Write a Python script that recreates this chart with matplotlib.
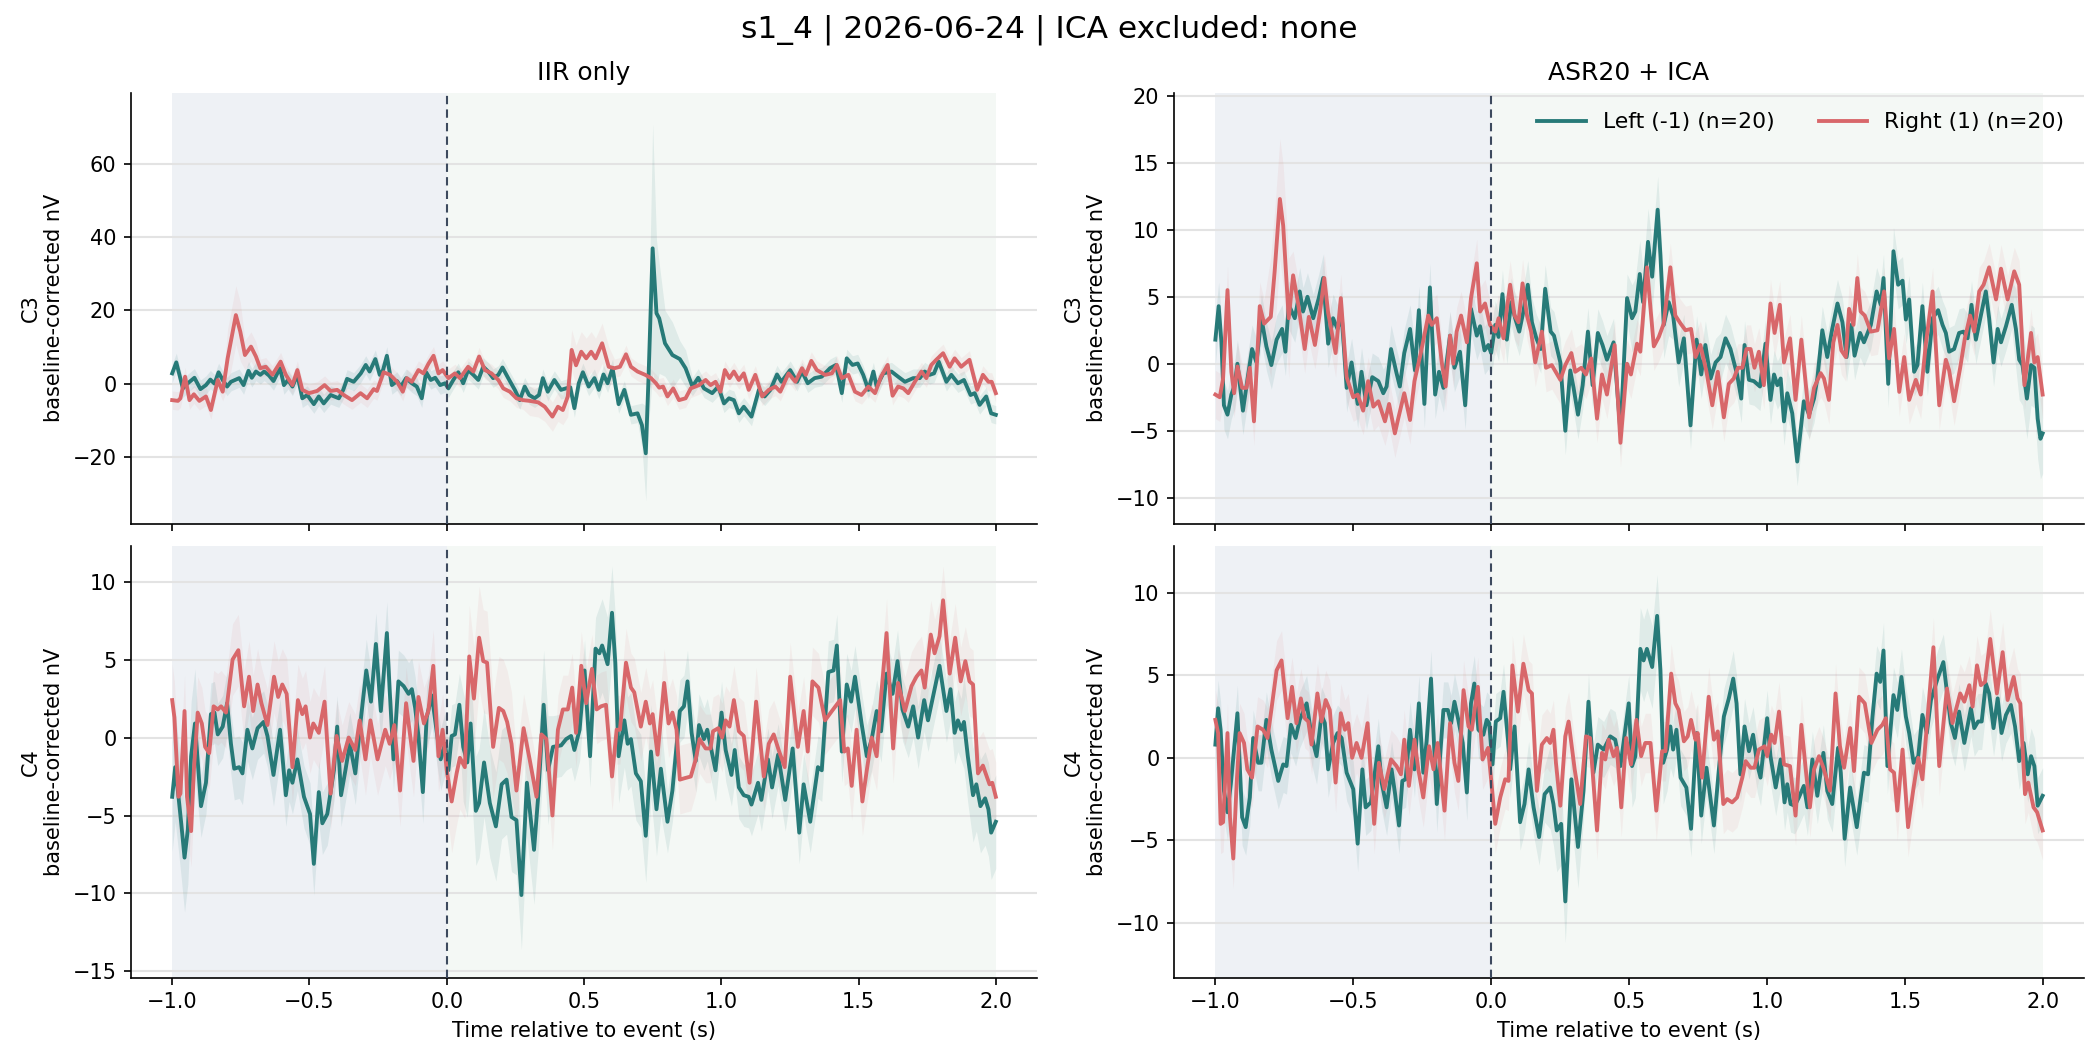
import numpy as np
import matplotlib
matplotlib.use("Agg")
import matplotlib.pyplot as plt

# ---------------- data (time s, value nV) ----------------
c3_iir_left = [(-1.000, 2.8), (-0.985, 5.8), (-0.961, -1.3), (-0.943, 0.1), (-0.919, 1.6), (-0.897, -1.5), (-0.877, -0.4), (-0.861, 1.1), (-0.846, 0.0), (-0.831, 3.1), (-0.816, 1.0), (-0.800, -0.8), (-0.786, 0.5), (-0.756, 1.5), (-0.740, -0.4), (-0.722, 3.5), (-0.710, 1.6), (-0.695, 3.3), (-0.679, 2.4), (-0.665, 3.3), (-0.647, 2.2), (-0.631, 0.7), (-0.617, 2.8), (-0.607, 4.2), (-0.593, -0.4), (-0.578, 1.0), (-0.562, -0.8), (-0.544, 2.4), (-0.526, -4.0), (-0.508, -3.1), (-0.484, -5.6), (-0.466, -3.5), (-0.448, -5.4), (-0.423, -3.1), (-0.393, -4.0), (-0.377, -1.7), (-0.363, 1.3), (-0.339, 0.5), (-0.313, 2.8), (-0.295, 5.1), (-0.281, 3.3), (-0.260, 6.7), (-0.244, 2.4), (-0.232, 3.7), (-0.218, 7.6), (-0.200, -0.4), (-0.181, 0.7), (-0.167, -0.8), (-0.148, 1.5), (-0.127, 0.1), (-0.109, -0.8), (-0.091, -4.0), (-0.075, 3.1), (-0.058, 1.0), (-0.042, 1.6), (-0.024, -0.4), (-0.006, 0.1), (0.006, -1.3), (0.024, 1.0), (0.042, 3.1), (0.060, 0.1), (0.078, 3.7), (0.097, 2.4), (0.115, 1.0), (0.133, 4.6), (0.151, 3.3), (0.169, 1.5), (0.188, 2.4), (0.203, 4.4), (0.224, 1.5), (0.248, -1.7), (0.266, -4.5), (0.284, -0.8), (0.300, -3.1), (0.320, -4.0), (0.336, -3.1), (0.350, 1.5), (0.368, -2.2), (0.392, 1.0), (0.416, -1.7), (0.434, -1.3), (0.450, -1.0), (0.465, -6.7), (0.481, 0.1), (0.496, 3.1), (0.517, -0.8), (0.538, 1.5), (0.554, -1.7), (0.571, 2.5), (0.586, 0.1), (0.604, 4.2), (0.626, -5.6), (0.647, -1.7), (0.671, -8.5), (0.695, -8.1), (0.711, -11.3), (0.725, -19.0), (0.735, 1.5), (0.750, 36.9), (0.764, 19.2), (0.774, 17.8), (0.795, 11.0), (0.822, 7.8), (0.849, 6.7), (0.870, 4.2), (0.895, -0.8), (0.916, 1.6), (0.937, -1.3), (0.967, -2.6), (0.989, -0.8), (1.010, -5.4), (1.028, -4.0), (1.046, -4.5), (1.064, -8.1), (1.082, -6.3), (1.110, -9.0), (1.137, -1.7), (1.158, -3.5), (1.179, -1.7), (1.203, 2.5), (1.219, 0.5), (1.251, 3.7), (1.276, 0.5), (1.294, 3.3), (1.315, 0.1), (1.340, 1.5), (1.366, 1.9), (1.396, 4.2), (1.418, 5.1), (1.439, -2.6), (1.457, 6.9), (1.478, 5.1), (1.497, 5.5), (1.517, 2.4), (1.536, -1.7), (1.554, 3.3), (1.566, -0.8), (1.590, 2.8), (1.620, 3.3), (1.644, 1.9), (1.669, 0.5), (1.699, 1.5), (1.723, 1.5), (1.741, 3.3), (1.759, 2.4), (1.775, 2.8), (1.792, 6.0), (1.820, 0.5), (1.838, 2.4), (1.862, 0.1), (1.884, 1.0), (1.908, -3.1), (1.923, -2.6), (1.941, -5.8), (1.965, -3.5), (1.983, -8.1), (2.000, -8.5)]

c3_iir_right = [(-1.000, -4.5), (-0.979, -4.7), (-0.970, -4.0), (-0.953, 1.9), (-0.937, -4.5), (-0.921, -2.9), (-0.901, -4.7), (-0.877, -3.5), (-0.859, -7.2), (-0.834, 1.0), (-0.816, -2.2), (-0.798, 6.9), (-0.768, 18.7), (-0.752, 14.2), (-0.735, 7.8), (-0.713, 10.1), (-0.695, 7.4), (-0.679, 4.2), (-0.659, 4.6), (-0.635, 2.4), (-0.605, 6.0), (-0.586, 2.4), (-0.562, -0.4), (-0.544, 3.7), (-0.526, -1.7), (-0.502, -2.6), (-0.472, -2.0), (-0.445, -0.4), (-0.423, -2.0), (-0.399, -1.7), (-0.375, -3.1), (-0.345, -4.5), (-0.314, -2.6), (-0.290, -4.0), (-0.266, -1.5), (-0.254, -2.0), (-0.230, 3.1), (-0.206, 2.4), (-0.181, 0.5), (-0.160, -2.2), (-0.145, 1.5), (-0.127, 0.5), (-0.103, 3.7), (-0.085, 2.8), (-0.066, 5.5), (-0.048, 7.6), (-0.030, 2.8), (-0.015, 3.7), (0.006, 1.5), (0.030, 2.8), (0.048, 1.5), (0.078, 4.6), (0.097, 3.3), (0.118, 7.4), (0.139, 3.7), (0.163, 2.8), (0.188, 1.0), (0.206, -1.3), (0.230, -2.2), (0.254, -4.0), (0.278, -4.5), (0.302, -4.7), (0.333, -5.1), (0.357, -6.3), (0.385, -9.0), (0.405, -6.3), (0.423, -7.2), (0.441, -3.5), (0.455, 9.2), (0.471, 5.0), (0.490, 8.7), (0.508, 6.9), (0.526, 8.7), (0.542, 6.9), (0.566, 11.0), (0.590, 4.6), (0.611, 4.2), (0.631, 4.6), (0.653, 8.0), (0.671, 4.6), (0.695, 3.3), (0.723, 2.4), (0.744, 1.5), (0.762, 0.1), (0.774, -1.1), (0.788, -0.8), (0.804, -3.5), (0.825, -1.3), (0.846, -4.5), (0.870, -4.0), (0.889, -1.3), (0.919, -0.4), (0.943, 1.0), (0.961, -0.4), (0.979, 0.5), (0.997, -2.2), (1.013, 3.7), (1.030, 1.5), (1.046, 3.3), (1.064, 1.0), (1.082, 2.8), (1.100, -1.7), (1.124, 2.4), (1.149, -3.5), (1.173, -1.7), (1.197, -0.8), (1.215, -2.2), (1.245, 2.8), (1.270, 0.5), (1.294, 4.2), (1.308, 2.4), (1.328, 6.2), (1.348, 3.7), (1.378, 2.4), (1.403, 2.8), (1.421, 5.1), (1.439, 1.5), (1.463, 2.4), (1.487, -2.2), (1.511, -3.1), (1.536, -0.8), (1.560, -2.6), (1.582, 1.9), (1.606, 5.1), (1.624, -3.3), (1.644, -0.8), (1.663, -1.3), (1.681, -2.6), (1.705, 0.5), (1.729, 3.3), (1.747, 1.5), (1.765, 5.1), (1.783, 6.5), (1.808, 8.3), (1.832, 4.6), (1.850, 6.9), (1.874, 4.6), (1.904, 6.5), (1.932, -1.7), (1.953, 2.4), (1.973, 0.5), (1.985, 0.5), (2.000, -2.6)]

c4_iir_left = [(-1.000, -3.8), (-0.989, -1.9), (-0.977, -3.8), (-0.967, -5.5), (-0.955, -7.7), (-0.943, -5.9), (-0.931, -1.2), (-0.917, 0.9), (-0.895, -4.4), (-0.877, -2.9), (-0.859, 1.5), (-0.846, 1.6), (-0.834, 0.2), (-0.816, 0.7), (-0.800, 2.2), (-0.786, -0.4), (-0.774, -2.0), (-0.756, -1.9), (-0.744, -2.3), (-0.726, 0.5), (-0.708, -0.7), (-0.689, 0.6), (-0.667, 1.0), (-0.653, 0.1), (-0.631, -2.4), (-0.607, 0.5), (-0.586, -3.7), (-0.574, -2.1), (-0.562, -2.9), (-0.544, -1.4), (-0.520, -3.8), (-0.498, -4.9), (-0.484, -8.1), (-0.466, -3.5), (-0.453, -5.5), (-0.435, -4.9), (-0.411, -2.1), (-0.399, 0.7), (-0.385, -3.7), (-0.369, -2.1), (-0.353, -0.4), (-0.333, -2.3), (-0.312, 1.3), (-0.293, 4.3), (-0.276, 2.3), (-0.258, 6.0), (-0.240, 1.7), (-0.218, 6.7), (-0.208, 3.1), (-0.194, -1.4), (-0.176, 3.6), (-0.157, 3.3), (-0.139, 2.8), (-0.127, 3.1), (-0.115, 1.9), (-0.103, 0.1), (-0.087, -3.5), (-0.073, 1.3), (-0.054, 2.7), (-0.036, 0.3), (-0.022, -1.4), (-0.006, -0.4), (0.006, -2.1), (0.018, 0.1), (0.030, 0.2), (0.046, 2.1), (0.060, -0.6), (0.075, -1.6), (0.087, 0.9), (0.106, -4.7), (0.118, -4.2), (0.136, -1.6), (0.157, -4.2), (0.179, -5.7), (0.200, -3.0), (0.218, -2.7), (0.236, -5.1), (0.254, -5.3), (0.272, -10.1), (0.292, -2.9), (0.318, -7.2), (0.333, -3.8), (0.353, 2.1), (0.369, -2.1), (0.387, -0.6), (0.417, -0.5), (0.435, -0.1), (0.453, 0.1), (0.465, -0.8), (0.484, 0.5), (0.502, 4.3), (0.522, -1.2), (0.542, 5.7), (0.556, 5.4), (0.566, 5.9), (0.586, 4.7), (0.602, 8.0), (0.614, 4.8), (0.626, -1.2), (0.647, 1.1), (0.659, -0.4), (0.671, -0.1), (0.689, -2.3), (0.707, -2.8), (0.725, -6.3), (0.744, -0.9), (0.764, -4.6), (0.780, -2.0), (0.804, -5.4), (0.822, -3.4), (0.834, -1.1), (0.849, 1.7), (0.864, 2.0), (0.877, 3.6), (0.892, 0.3), (0.907, -1.5), (0.919, 0.8), (0.937, -0.1), (0.949, 0.5), (0.979, -2.1), (1.001, 1.6), (1.016, -0.8), (1.037, -2.4), (1.049, -0.8), (1.064, -3.2), (1.082, -3.7), (1.100, -3.8), (1.110, -4.3), (1.134, -2.9), (1.146, -4.0), (1.170, -1.4), (1.185, -3.2), (1.207, -1.1), (1.233, -4.0), (1.260, -0.7), (1.284, -6.1), (1.300, -3.0), (1.324, -5.4), (1.352, -1.9), (1.366, -2.1), (1.390, 4.2), (1.409, 4.3), (1.421, 5.9), (1.439, -0.9), (1.457, 3.4), (1.473, 2.3), (1.487, 3.9), (1.511, 0.9), (1.530, -1.2), (1.548, -0.1), (1.566, 1.7), (1.582, 0.4), (1.602, 4.1), (1.624, 2.8), (1.642, 4.9), (1.660, 1.8), (1.681, 0.7), (1.699, 2.0), (1.717, 0.0), (1.739, 2.4), (1.753, 1.1), (1.771, 2.6), (1.795, 4.6), (1.820, 1.7), (1.835, 3.1), (1.850, 0.3), (1.862, 1.1), (1.874, 0.5), (1.884, 1.0), (1.898, -1.2), (1.917, -3.7), (1.929, -3.0), (1.944, -4.4), (1.961, -3.9), (1.973, -4.6), (1.983, -6.1), (2.000, -5.4)]

c4_iir_right = [(-1.000, 2.4), (-0.992, 1.3), (-0.977, -3.8), (-0.970, -3.6), (-0.955, 1.7), (-0.946, -3.8), (-0.931, -6.0), (-0.921, -2.1), (-0.907, 1.6), (-0.892, 0.9), (-0.880, -0.6), (-0.865, -1.0), (-0.849, 2.0), (-0.834, 1.8), (-0.822, 2.0), (-0.804, 1.6), (-0.780, 5.0), (-0.759, 5.6), (-0.738, 2.0), (-0.720, 3.9), (-0.705, 1.7), (-0.689, 3.4), (-0.675, 2.2), (-0.653, 0.8), (-0.629, 3.9), (-0.614, 2.6), (-0.599, 3.4), (-0.583, 2.8), (-0.562, -1.9), (-0.542, 2.4), (-0.526, 1.5), (-0.514, 2.0), (-0.498, 0.0), (-0.486, 0.9), (-0.466, 0.3), (-0.445, 2.3), (-0.423, -3.6), (-0.401, 0.1), (-0.381, -1.5), (-0.357, 0.0), (-0.333, -0.8), (-0.317, 1.1), (-0.296, -1.4), (-0.278, 1.1), (-0.252, -1.4), (-0.224, 0.5), (-0.208, -0.4), (-0.191, 0.8), (-0.170, -3.4), (-0.148, 2.2), (-0.133, 0.1), (-0.121, -1.5), (-0.103, 2.6), (-0.083, 0.9), (-0.067, 1.7), (-0.049, 4.6), (-0.030, -1.2), (-0.015, 0.5), (0.000, -2.1), (0.018, -4.1), (0.036, -2.3), (0.048, -1.3), (0.066, -1.9), (0.082, 5.2), (0.099, 2.5), (0.118, 6.4), (0.133, 4.9), (0.147, 4.8), (0.169, -0.6), (0.190, 1.9), (0.206, 1.7), (0.220, 1.0), (0.236, -0.4), (0.254, -3.4), (0.280, 0.6), (0.302, -1.4), (0.327, -3.8), (0.345, 0.2), (0.363, -0.1), (0.385, -5.0), (0.405, 0.5), (0.423, 1.8), (0.441, 1.8), (0.457, 3.2), (0.471, 0.3), (0.490, 4.6), (0.508, 2.2), (0.529, 4.4), (0.546, 1.8), (0.562, 2.0), (0.580, 2.1), (0.602, -2.5), (0.619, 0.5), (0.631, 0.5), (0.653, 4.8), (0.671, 3.2), (0.683, 2.9), (0.707, 0.7), (0.725, 2.3), (0.740, 0.9), (0.750, 1.5), (0.768, -1.1), (0.792, 3.5), (0.808, 0.9), (0.822, 1.6), (0.837, 0.5), (0.849, -2.7), (0.868, -2.6), (0.889, -2.5), (0.907, -1.4), (0.921, -0.1), (0.943, -0.7), (0.961, -0.7), (0.970, 0.4), (0.989, 0.6), (1.003, 0.0), (1.016, 1.1), (1.030, 0.7), (1.046, 2.4), (1.064, 0.4), (1.082, 0.1), (1.103, -2.9), (1.127, 2.3), (1.155, -2.5), (1.173, -0.4), (1.191, 0.2), (1.209, -0.8), (1.231, -1.9), (1.251, 3.9), (1.279, -0.6), (1.300, 1.7), (1.315, -0.9), (1.332, 3.6), (1.354, 3.2), (1.378, 1.1), (1.403, 1.7), (1.433, 2.4), (1.448, -0.9), (1.461, -0.7), (1.475, -3.1), (1.493, 0.5), (1.514, -4.1), (1.530, -2.1), (1.548, 0.0), (1.566, -1.2), (1.582, 2.6), (1.602, 6.7), (1.626, -0.7), (1.644, 3.5), (1.669, 1.7), (1.693, 3.3), (1.711, 3.9), (1.729, 4.3), (1.741, 3.2), (1.763, 6.6), (1.777, 5.4), (1.795, 6.5), (1.808, 8.8), (1.832, 4.1), (1.852, 6.4), (1.872, 3.6), (1.889, 4.9), (1.904, 3.6), (1.917, 3.4), (1.935, -2.3), (1.953, -1.8), (1.977, -3.0), (1.987, -2.9), (2.000, -3.8)]

c3_asr_left = [(-1.000, 1.8), (-0.988, 4.3), (-0.978, 1.6), (-0.969, -3.1), (-0.956, -3.8), (-0.942, -2.3), (-0.930, -1.6), (-0.920, 0.0), (-0.900, -3.5), (-0.881, -0.8), (-0.867, 1.1), (-0.851, 0.1), (-0.833, 3.4), (-0.815, 1.3), (-0.797, -0.1), (-0.778, 1.8), (-0.758, 2.6), (-0.746, 0.9), (-0.734, 4.4), (-0.712, 3.4), (-0.694, 5.4), (-0.682, 3.9), (-0.666, 5.0), (-0.645, 3.4), (-0.625, 4.9), (-0.609, 6.4), (-0.591, 1.5), (-0.573, 3.4), (-0.557, 2.6), (-0.542, 3.6), (-0.524, -1.8), (-0.506, 0.1), (-0.484, -3.0), (-0.470, -0.6), (-0.452, -3.1), (-0.431, -1.0), (-0.409, -1.3), (-0.391, -2.2), (-0.379, -1.7), (-0.363, 1.1), (-0.343, -0.7), (-0.331, -1.7), (-0.315, 0.8), (-0.294, 2.6), (-0.276, -0.5), (-0.262, 4.0), (-0.242, -3.0), (-0.222, 5.7), (-0.203, -2.3), (-0.189, -0.6), (-0.173, -1.8), (-0.149, 2.1), (-0.133, -0.3), (-0.113, 0.9), (-0.094, -3.1), (-0.073, 4.1), (-0.052, 2.1), (-0.040, 2.8), (-0.024, 1.0), (-0.010, 1.4), (0.000, 0.8), (0.015, 2.9), (0.027, 2.0), (0.041, 5.2), (0.057, 1.8), (0.073, 4.6), (0.087, 3.4), (0.102, 2.4), (0.117, 3.9), (0.133, 5.9), (0.148, 3.1), (0.164, 1.9), (0.180, 1.1), (0.196, 5.6), (0.216, 2.4), (0.228, 2.1), (0.251, 0.1), (0.269, -5.0), (0.287, -0.5), (0.299, -1.8), (0.315, -3.8), (0.332, -1.6), (0.351, 2.4), (0.368, -1.6), (0.387, 2.3), (0.404, 1.4), (0.420, 0.3), (0.444, 1.6), (0.469, -5.1), (0.493, 4.9), (0.511, 3.4), (0.523, 3.9), (0.539, 6.7), (0.551, 4.6), (0.569, 9.1), (0.584, 6.5), (0.604, 11.5), (0.614, 8.1), (0.626, 2.9), (0.644, 4.6), (0.660, 3.6), (0.680, 0.1), (0.699, 1.9), (0.723, -4.6), (0.745, 1.8), (0.762, -0.8), (0.777, 1.4), (0.796, -1.1), (0.814, 0.1), (0.832, 0.5), (0.850, 1.9), (0.868, 1.1), (0.892, -0.8), (0.907, -2.6), (0.919, 1.4), (0.935, -1.2), (0.953, -1.3), (0.975, -1.7), (0.995, 1.5), (1.013, -2.7), (1.026, -0.8), (1.038, -1.6), (1.050, -1.1), (1.062, -4.3), (1.074, -2.2), (1.092, -3.7), (1.110, -7.3), (1.134, -2.8), (1.153, -3.8), (1.171, -2.6), (1.183, -1.1), (1.201, 2.5), (1.219, 0.5), (1.237, 2.6), (1.256, 4.5), (1.274, 3.1), (1.289, 0.5), (1.306, 2.9), (1.318, 0.6), (1.338, 2.3), (1.352, 1.6), (1.377, 2.9), (1.398, 5.4), (1.413, 4.4), (1.423, 6.4), (1.440, -1.5), (1.459, 8.4), (1.476, 5.9), (1.492, 6.2), (1.504, 3.3), (1.516, 4.8), (1.534, -0.6), (1.546, -0.1), (1.564, 4.3), (1.582, -0.6), (1.601, 3.4), (1.621, 4.0), (1.637, 2.9), (1.649, 2.3), (1.661, 0.9), (1.679, 1.1), (1.697, 2.3), (1.713, 2.4), (1.728, 1.9), (1.742, 4.4), (1.758, 1.8), (1.776, 3.6), (1.794, 5.4), (1.806, 3.4), (1.822, 0.1), (1.837, 2.6), (1.849, 1.6), (1.867, 2.8), (1.888, 4.4), (1.903, 2.6), (1.915, 0.3), (1.927, -0.1), (1.943, -2.6), (1.958, -0.1), (1.970, -0.3), (1.982, -4.1), (1.992, -5.6), (2.000, -5.2)]

c3_asr_right = [(-1.000, -2.3), (-0.984, -2.5), (-0.972, -1.1), (-0.956, 5.5), (-0.942, -0.6), (-0.932, -2.2), (-0.920, -0.2), (-0.903, -1.8), (-0.887, -1.8), (-0.875, -0.3), (-0.860, -4.3), (-0.839, 4.3), (-0.823, 3.0), (-0.799, 3.5), (-0.785, 6.9), (-0.766, 12.3), (-0.754, 10.3), (-0.734, 3.4), (-0.718, 6.6), (-0.700, 4.5), (-0.676, 1.1), (-0.661, 3.5), (-0.639, 1.4), (-0.621, 3.8), (-0.605, 6.4), (-0.591, 3.8), (-0.564, 0.8), (-0.545, 4.9), (-0.524, -1.0), (-0.500, -2.5), (-0.484, -2.3), (-0.464, -3.5), (-0.446, -1.3), (-0.427, -3.2), (-0.409, -2.8), (-0.385, -4.3), (-0.370, -3.0), (-0.349, -5.2), (-0.337, -4.1), (-0.315, -2.2), (-0.294, -4.2), (-0.278, -1.3), (-0.254, 0.9), (-0.228, 3.6), (-0.215, 2.9), (-0.197, 3.4), (-0.179, 0.1), (-0.165, -1.7), (-0.149, 2.1), (-0.137, 0.0), (-0.125, 2.4), (-0.109, 3.6), (-0.088, 1.6), (-0.073, 4.9), (-0.052, 7.5), (-0.040, 3.9), (-0.022, 4.5), (-0.004, 2.9), (0.015, 2.4), (0.027, 3.4), (0.045, 1.9), (0.057, 4.1), (0.069, 5.9), (0.085, 3.6), (0.099, 3.1), (0.114, 6.0), (0.130, 3.6), (0.145, 2.4), (0.160, 0.1), (0.184, 2.4), (0.199, -0.3), (0.220, -0.1), (0.251, -1.2), (0.269, -0.1), (0.291, 0.8), (0.305, -0.6), (0.327, -0.3), (0.344, -0.8), (0.363, 0.4), (0.384, -4.1), (0.402, -0.8), (0.420, -2.3), (0.448, 1.4), (0.469, -5.9), (0.493, 0.0), (0.507, -0.8), (0.529, 1.5), (0.541, 0.9), (0.565, 7.2), (0.590, 1.3), (0.608, 2.0), (0.626, 3.0), (0.650, 7.2), (0.668, 3.6), (0.687, 3.0), (0.705, 2.5), (0.725, 2.6), (0.741, 0.5), (0.759, 1.4), (0.781, -0.6), (0.802, -3.1), (0.822, -0.6), (0.844, -4.0), (0.862, -1.5), (0.880, -1.1), (0.895, -0.3), (0.911, -0.3), (0.926, 1.1), (0.941, 1.1), (0.955, -0.3), (0.971, 0.9), (0.989, -1.6), (1.013, 4.5), (1.028, 2.3), (1.047, 4.4), (1.062, 0.1), (1.084, 1.9), (1.104, -2.7), (1.125, 1.8), (1.153, -4.0), (1.171, -1.8), (1.195, -0.7), (1.207, -1.1), (1.225, -2.7), (1.241, 1.6), (1.256, 2.9), (1.270, 1.0), (1.286, 0.5), (1.298, 4.1), (1.314, 2.9), (1.328, 6.4), (1.340, 3.9), (1.355, 3.6), (1.377, 2.4), (1.401, 2.5), (1.425, 5.4), (1.443, 0.4), (1.461, 2.6), (1.480, -2.1), (1.498, 0.5), (1.516, -2.7), (1.540, -1.2), (1.558, -2.3), (1.576, 1.4), (1.601, 5.4), (1.625, -3.1), (1.649, 0.3), (1.661, -0.5), (1.679, -2.8), (1.701, -0.3), (1.718, 1.9), (1.737, 3.6), (1.752, 2.4), (1.770, 5.4), (1.786, 5.9), (1.806, 7.2), (1.831, 4.8), (1.849, 7.1), (1.873, 4.8), (1.897, 6.9), (1.915, 5.9), (1.934, -1.6), (1.958, 2.3), (1.970, 0.1), (1.982, 0.5), (2.000, -2.3)]

c4_asr_left = [(-1.000, 0.8), (-0.990, 3.0), (-0.981, 1.7), (-0.969, -2.0), (-0.956, -3.3), (-0.944, -1.6), (-0.930, 0.9), (-0.920, 2.7), (-0.903, -3.6), (-0.890, -4.2), (-0.875, -2.4), (-0.863, 1.2), (-0.845, -0.3), (-0.833, -0.3), (-0.815, 2.3), (-0.797, 0.5), (-0.772, -1.4), (-0.754, -0.4), (-0.742, -0.5), (-0.726, 2.0), (-0.709, 1.2), (-0.694, 2.3), (-0.669, 3.3), (-0.651, 1.3), (-0.633, 0.1), (-0.615, 2.6), (-0.603, 2.1), (-0.591, -0.7), (-0.573, 0.9), (-0.557, 1.5), (-0.542, 1.2), (-0.524, -0.9), (-0.500, -1.9), (-0.484, -5.2), (-0.467, -0.7), (-0.455, -3.0), (-0.436, -2.7), (-0.409, 0.7), (-0.397, -1.5), (-0.379, -3.0), (-0.361, -0.7), (-0.349, -2.1), (-0.334, -4.1), (-0.322, -1.4), (-0.310, -1.3), (-0.294, 1.7), (-0.278, -0.7), (-0.262, 3.3), (-0.246, -0.9), (-0.234, 1.0), (-0.218, 4.8), (-0.197, -2.8), (-0.185, 0.1), (-0.173, 2.9), (-0.157, 2.9), (-0.145, 2.1), (-0.133, 3.4), (-0.119, 2.3), (-0.103, 0.9), (-0.088, -2.1), (-0.073, 3.3), (-0.061, 4.5), (-0.046, 1.7), (-0.028, 1.4), (-0.016, 2.3), (-0.007, 2.1), (0.005, -0.4), (0.017, 2.2), (0.033, 2.4), (0.045, 4.0), (0.061, 1.1), (0.069, -0.7), (0.085, 1.9), (0.105, -3.9), (0.121, -2.8), (0.136, -0.7), (0.154, -3.0), (0.174, -4.8), (0.194, -2.2), (0.214, -1.8), (0.226, -2.8), (0.238, -4.4), (0.254, -4.0), (0.269, -8.7), (0.291, -1.3), (0.315, -5.4), (0.335, -2.0), (0.353, 3.4), (0.371, -0.9), (0.387, 0.8), (0.408, 0.5), (0.432, 1.3), (0.450, 1.1), (0.469, -0.5), (0.499, 3.3), (0.511, -0.5), (0.523, 0.1), (0.541, 6.6), (0.553, 5.9), (0.565, 6.6), (0.584, 5.5), (0.602, 8.6), (0.614, 5.3), (0.624, -0.3), (0.638, 0.5), (0.650, 1.9), (0.660, 0.5), (0.672, 1.7), (0.687, -1.2), (0.708, -1.8), (0.725, -4.3), (0.745, 1.5), (0.762, -3.5), (0.781, -0.6), (0.808, -4.1), (0.826, -0.7), (0.844, 2.5), (0.862, 3.6), (0.878, 4.8), (0.890, 3.3), (0.904, -1.0), (0.919, 1.9), (0.935, 0.4), (0.950, 1.4), (0.965, -0.4), (0.977, -1.2), (1.001, 2.4), (1.013, 0.1), (1.032, -1.8), (1.050, -0.1), (1.064, -2.7), (1.074, -1.6), (1.086, -2.8), (1.101, -2.9), (1.116, -2.4), (1.134, -1.7), (1.147, -3.0), (1.165, -0.1), (1.183, -2.3), (1.205, 0.3), (1.219, -2.0), (1.237, -2.8), (1.258, 0.6), (1.268, -0.9), (1.282, -4.9), (1.302, -1.8), (1.326, -4.2), (1.352, -0.9), (1.367, -1.0), (1.383, 2.5), (1.398, 5.1), (1.411, 4.6), (1.423, 6.5), (1.437, -0.5), (1.459, 3.8), (1.473, 2.9), (1.488, 4.9), (1.504, 2.5), (1.516, 1.5), (1.532, -0.3), (1.549, 0.1), (1.564, 2.6), (1.580, 1.5), (1.595, 3.5), (1.619, 4.8), (1.640, 5.8), (1.655, 3.7), (1.667, 2.1), (1.682, 1.2), (1.697, 2.8), (1.716, 0.9), (1.740, 3.0), (1.752, 1.8), (1.766, 2.2), (1.779, 2.2), (1.794, 4.5), (1.806, 3.9), (1.822, 1.8), (1.837, 3.6), (1.851, 1.5), (1.867, 2.6), (1.885, 3.2), (1.900, 1.9), (1.915, -0.2), (1.931, 0.9), (1.946, -1.0), (1.958, 0.1), (1.970, -0.5), (1.982, -2.9), (2.000, -2.3)]

c4_asr_right = [(-1.000, 2.3), (-0.990, 1.5), (-0.981, -4.0), (-0.972, -3.9), (-0.956, 1.5), (-0.947, -3.6), (-0.935, -6.1), (-0.923, -1.6), (-0.912, 1.5), (-0.896, 0.9), (-0.884, -0.7), (-0.867, -1.2), (-0.847, 1.9), (-0.827, 1.7), (-0.811, 1.2), (-0.797, 2.9), (-0.778, 5.3), (-0.760, 5.9), (-0.738, 2.4), (-0.722, 4.3), (-0.706, 2.1), (-0.690, 3.6), (-0.676, 2.4), (-0.663, 2.2), (-0.651, 0.8), (-0.630, 3.9), (-0.615, 2.2), (-0.600, 3.5), (-0.585, 2.9), (-0.564, -1.5), (-0.545, 2.7), (-0.530, 1.7), (-0.518, 2.1), (-0.504, 0.0), (-0.488, 0.9), (-0.470, 0.0), (-0.448, 2.1), (-0.424, -4.0), (-0.407, -0.3), (-0.387, -1.9), (-0.363, -0.1), (-0.343, -0.5), (-0.327, -1.0), (-0.315, 1.1), (-0.298, -1.7), (-0.278, 1.1), (-0.264, -0.7), (-0.246, -2.4), (-0.225, 0.7), (-0.209, -0.7), (-0.194, 0.9), (-0.169, -3.2), (-0.149, 2.1), (-0.133, -0.3), (-0.119, -1.4), (-0.100, 4.1), (-0.082, 1.9), (-0.070, 1.7), (-0.048, 4.3), (-0.031, -0.1), (-0.011, 0.6), (0.000, -1.3), (0.015, -4.0), (0.033, -2.4), (0.051, -1.3), (0.063, -1.4), (0.077, 5.6), (0.097, 2.8), (0.117, 5.7), (0.136, 4.1), (0.148, 3.9), (0.166, -2.0), (0.184, 0.8), (0.202, 1.2), (0.214, 0.9), (0.226, 1.7), (0.235, -0.3), (0.251, -2.9), (0.269, 1.3), (0.281, 2.2), (0.303, -0.7), (0.323, -2.8), (0.344, 1.3), (0.359, 1.2), (0.384, -4.4), (0.402, 0.3), (0.414, -0.1), (0.426, 1.1), (0.444, 0.1), (0.456, 0.6), (0.472, -3.0), (0.490, 1.2), (0.507, -0.4), (0.527, 2.3), (0.544, 0.1), (0.559, 0.9), (0.578, 0.9), (0.599, -3.2), (0.620, 0.4), (0.632, 0.4), (0.653, 5.1), (0.668, 3.3), (0.680, 2.9), (0.699, 1.0), (0.713, 1.3), (0.725, 2.3), (0.741, 1.1), (0.749, 1.5), (0.765, -1.2), (0.789, 3.7), (0.808, 1.1), (0.822, 1.6), (0.842, -2.8), (0.856, -2.5), (0.874, -2.7), (0.892, -2.4), (0.911, -1.2), (0.923, -0.2), (0.941, -0.6), (0.955, -0.6), (0.971, 0.5), (0.992, 0.7), (1.001, 0.1), (1.016, 1.4), (1.028, 0.9), (1.044, 2.8), (1.062, -0.4), (1.084, -0.5), (1.104, -3.5), (1.125, 2.0), (1.141, -0.7), (1.156, -3.0), (1.171, -0.7), (1.189, 0.1), (1.205, -0.6), (1.229, -2.0), (1.249, 3.9), (1.265, 0.7), (1.280, -0.6), (1.302, 1.8), (1.316, -0.8), (1.334, 3.7), (1.355, 3.3), (1.379, 0.9), (1.401, 1.7), (1.419, 2.0), (1.431, 2.4), (1.447, -0.7), (1.461, -0.9), (1.473, -3.2), (1.492, 0.5), (1.512, -4.2), (1.532, -1.8), (1.549, 0.0), (1.564, -1.3), (1.582, 2.3), (1.604, 6.7), (1.625, -0.5), (1.653, 4.2), (1.673, 2.1), (1.701, 3.9), (1.716, 3.4), (1.734, 4.4), (1.746, 3.1), (1.762, 5.6), (1.776, 4.4), (1.791, 4.6), (1.810, 7.2), (1.834, 3.9), (1.855, 6.4), (1.873, 3.5), (1.895, 4.9), (1.909, 3.6), (1.919, 3.3), (1.936, -2.2), (1.948, -1.5), (1.967, -3.0), (1.980, -3.3), (2.000, -4.4)]

# SEM half-widths of the shaded bands: (window end times, half-width per window)
sem_c3_iir_left = ([0.70, 0.72, 0.74, 0.755, 0.77, 0.78, 0.83, 0.88, 2.01], [2.5, 6.0, 13.0, 34.0, 20.0, 15.0, 9.0, 5.0, 2.5])
sem_c3_iir_right = ([-0.80, -0.74, -0.68, 0.30, 0.44, 0.60, 2.01], [2.5, 8.0, 4.0, 2.5, 4.0, 5.5, 2.5])
sem_c4_iir_left = ([-0.90, 0.05, 0.38, 0.55, 0.80, 1.88, 2.01], [3.5, 2.0, 3.5, 2.0, 3.0, 2.0, 3.0])
sem_c4_iir_right = ([0.0, 0.25, 2.01], [2.3, 3.3, 2.2])
sem_c3_asr_left = ([0.5, 0.65, 1.9, 2.01], [1.8, 2.5, 1.8, 3.0])
sem_c3_asr_right = ([-0.80, -0.72, 2.01], [1.8, 4.5, 1.8])
sem_c4_asr_left = ([0.2, 0.32, 0.5, 0.65, 2.01], [1.7, 2.5, 1.7, 2.5, 1.7])
sem_c4_asr_right = ([2.01], [1.8])

panel_titles = ["IIR only", "ASR20 + ICA"]
channels = ["C3", "C4"]
legend_labels = ["Left (-1) (n=20)", "Right (1) (n=20)"]
suptitle = "s1_4 | 2026-06-24 | ICA excluded: none"
xticks = [-1.0, -0.5, 0.0, 0.5, 1.0, 1.5, 2.0]
yticks = {(0, 0): [-20, 0, 20, 40, 60], (1, 0): [-15, -10, -5, 0, 5, 10],
          (0, 1): [-10, -5, 0, 5, 10, 15, 20], (1, 1): [-10, -5, 0, 5, 10]}
ylims = {(0, 0): (-38.2, 79.4), (1, 0): (-15.4, 12.3),
         (0, 1): (-11.94, 20.25), (1, 1): (-13.32, 12.85)}

panels = {(0, 0): (c3_iir_left, c3_iir_right, sem_c3_iir_left, sem_c3_iir_right),
          (1, 0): (c4_iir_left, c4_iir_right, sem_c4_iir_left, sem_c4_iir_right),
          (0, 1): (c3_asr_left, c3_asr_right, sem_c3_asr_left, sem_c3_asr_right),
          (1, 1): (c4_asr_left, c4_asr_right, sem_c4_asr_left, sem_c4_asr_right)}

TEAL = "#277a78"
RED = "#d8676a"

plt.rcParams['font.family'] = ['DejaVu Sans']
fig = plt.figure(figsize=(2098 / 150, 1058 / 150), dpi=150)

W, H = 2098.0, 1058.0
col_x = [(131, 1037), (1174, 2084)]
row_y = [(92.5, 523.7), (545.7, 977.7)]


def band(series, sem):
    t = np.array([p[0] for p in series])
    v = np.array([p[1] for p in series])
    edges, widths = sem
    idx = np.searchsorted(np.array(edges), t)
    idx = np.clip(idx, 0, len(widths) - 1)
    hw = np.array(widths)[idx]
    return t, v, hw


for (r, c), (left, right, sl, sr) in panels.items():
    x0, x1 = col_x[c]
    y0, y1 = row_y[r]
    ax = fig.add_axes([x0 / W, 1 - y1 / H, (x1 - x0) / W, (y1 - y0) / H])
    ax.axvspan(-1, 0, color="#5f7da5", alpha=0.10, lw=0, zorder=0.2)
    ax.axvspan(0, 2, color="#78aa86", alpha=0.08, lw=0, zorder=0.2)
    ax.grid(axis='y', color="#e3e3e3", lw=1.0, zorder=0.1)
    ax.set_axisbelow(True)
    for series, sem, col, lab, a in ((left, sl, TEAL, legend_labels[0], 0.10),
                                     (right, sr, RED, legend_labels[1], 0.08)):
        t, v, hw = band(series, sem)
        ax.fill_between(t, v - hw, v + hw, color=col, alpha=a, lw=0, zorder=1)
        ax.plot(t, v, color=col, lw=1.85, label=lab, zorder=3,
                solid_joinstyle='round')
    ax.axvline(0, color="#3d4a5e", ls=(0, (4, 2.5)), lw=1.0, zorder=4)
    ax.set_xlim(-1.15, 2.15)
    ax.set_ylim(*ylims[(r, c)])
    ax.set_yticks(yticks[(r, c)])
    ax.set_xticks(xticks)
    ax.spines['top'].set_visible(False)
    ax.spines['right'].set_visible(False)
    ax.tick_params(labelsize=10)
    ax.set_ylabel(f"{channels[r]}\nbaseline-corrected nV", fontsize=10)
    if r == 0:
        ax.set_title(panel_titles[c], fontsize=12)
        ax.tick_params(labelbottom=False)
    else:
        ax.set_xlabel("Time relative to event (s)", fontsize=10)
    if (r, c) == (0, 1):
        ax.legend(loc="upper right", ncol=2, frameon=False, fontsize=10.5,
                  handlelength=2.2)

fig.suptitle(suptitle, fontsize=15, y=0.986)
fig.savefig("out.png", dpi=150)
